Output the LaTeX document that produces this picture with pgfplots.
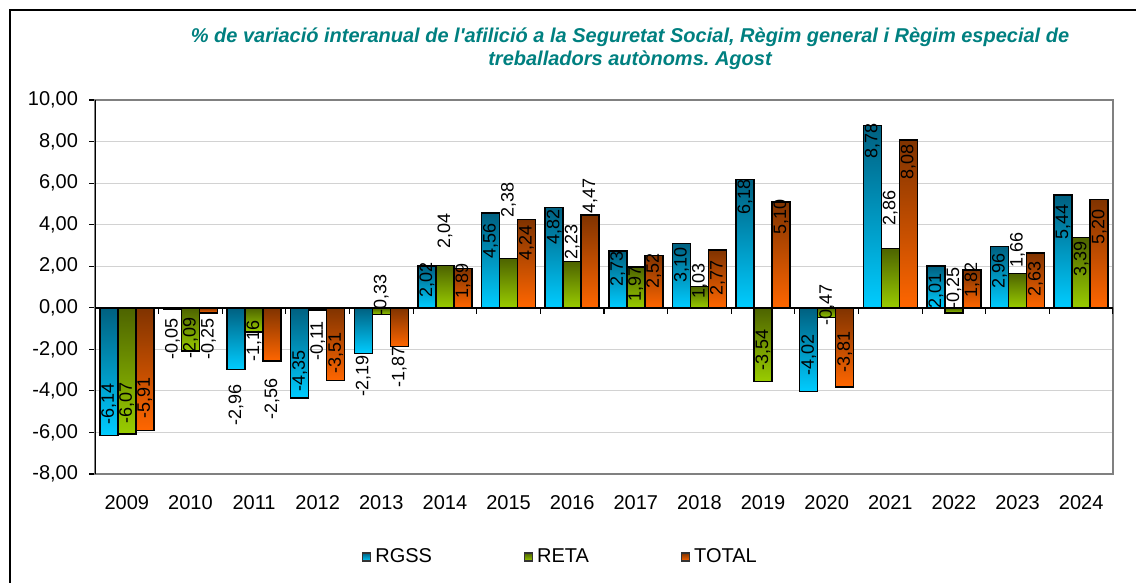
\documentclass[border=0pt]{standalone}
\usepackage{fontspec}
\setmainfont{Liberation Sans}
\usepackage{pgfplots}
\pgfplotsset{compat=1.18}
\usepackage{pgfplotstable}

\definecolor{rgssTop}{RGB}{0,96,128}
\definecolor{rgssBot}{RGB}{0,204,255}
\definecolor{retaTop}{RGB}{77,99,0}
\definecolor{retaBot}{RGB}{153,204,0}
\definecolor{totTop}{RGB}{128,51,0}
\definecolor{totBot}{RGB}{255,102,0}
\definecolor{titleteal}{RGB}{0,128,128}

% x = year index, val = value, ly = centre of the label
\pgfplotstableread{
x val ly
0 -6.14 -4.62
1 -0.05 -1.49
2 -2.96 -4.70
3 -4.35 -3.03
4 -2.19 -3.30
5 2.02 1.35
6 4.56 3.22
7 4.82 3.90
8 2.73 1.88
9 3.10 2.07
10 6.18 5.34
11 -4.02 -2.26
12 8.78 8.04
13 2.01 0.80
14 2.96 1.75
15 5.44 4.13
}\rgss
\pgfplotstableread{
x val ly
0 -6.07 -4.57
1 -2.09 -1.45
2 -1.16 -1.60
3 -0.11 -1.60
4 -0.33 0.60
5 2.04 3.70
6 2.38 5.20
7 2.23 3.16
8 1.97 1.15
9 1.03 1.30
10 -3.54 -2.02
11 -0.47 0.14
12 2.86 4.80
13 -0.25 0.97
14 1.66 2.80
15 3.39 2.36
}\reta
\pgfplotstableread{
x val ly
0 -5.91 -4.33
1 -0.25 -1.49
2 -2.56 -4.38
3 -3.51 -2.17
4 -1.87 -2.84
5 1.89 1.30
6 4.24 3.10
7 4.47 5.40
8 2.52 1.78
9 2.77 1.44
10 5.10 4.38
11 -3.81 -2.12
12 8.08 7.03
13 1.82 1.35
14 2.63 1.40
15 5.20 3.90
}\total

\pgfplotsset{
  barbase/.style={ybar, forget plot, bar width=0.283, draw=black, line width=0.75pt},
  vallabels/.style={forget plot, only marks, mark=none, point meta=explicit,
    nodes near coords={\pgfmathprintnumber[fixed, fixed zerofill, precision=2, use comma, assume math mode=true]{\pgfplotspointmeta}},
    every node near coord/.append style={rotate=90, anchor=center, inner sep=0pt,
        font=\fontsize{9}{11}\selectfont, text=black}},
}

\begin{document}
\frenchspacing
\begin{tikzpicture}
\path[use as bounding box] (0,0) rectangle (568pt,-291.5pt);
\draw[line width=1.2pt] (5pt,-291.5pt) -- (5pt,-5pt) -- (568pt,-5pt);
\node[align=center, text=titleteal, font=\bfseries\itshape\fontsize{10}{11.5}\selectfont]
  at (315pt,-24.5pt) {\% de variació interanual de l\textquotesingle afilició a la Seguretat Social, Règim general i Règim especial de\\ treballadors autònoms. Agost};

\begin{axis}[
    at={(47.5pt,-237pt)}, anchor=south west,
    scale only axis,
    width=509pt, height=187pt,
    xmin=-0.5, xmax=15.5,
    ymin=-8, ymax=10,
    ytick={-8,-6,...,10},
    xtick={0,...,15},
    xticklabels={2009,2010,2011,2012,2013,2014,2015,2016,2017,2018,2019,2020,2021,2022,2023,2024},
    x tick label style={font=\fontsize{10}{12}\selectfont, yshift=-4pt},
    y tick label style={font=\fontsize{10}{12}\selectfont, xshift=-2pt,
        /pgf/number format/.cd, fixed, fixed zerofill, precision=2, use comma, assume math mode=true},
    major x tick style={draw=none},
    major y tick style={black, line width=0.6pt},
    tick align=outside, major tick length=3pt,
    ytick pos=left, xtick pos=bottom,
    ymajorgrids,
    grid style={gray!35, line width=0.6pt},
    axis line style={draw=gray, line width=0.8pt},
    legend columns=3,
    legend style={at={(0.262,-0.222)}, anchor=west, draw=none, fill=none, inner sep=0pt,
        font=\fontsize{10}{12}\selectfont,
        /tikz/every even column/.append style={column sep=44pt}},
    legend image code/.code={\draw[#1, draw=black!80, line width=0.6pt] (0pt,-2pt) rectangle (4pt,2pt);},
]
\addlegendimage{top color=rgssTop, bottom color=rgssBot}
\addlegendentry{RGSS}
\addlegendimage{top color=retaTop, bottom color=retaBot}
\addlegendentry{RETA}
\addlegendimage{top color=totTop, bottom color=totBot}
\addlegendentry{TOTAL}

% one plot per bar, so that every bar gets its own gradient
\pgfplotsinvokeforeach{0,...,15}{
  \addplot[barbase, bar shift=-0.283, top color=rgssTop, bottom color=rgssBot,
    x filter/.expression={x==#1 ? x : nan}] table[x=x, y=val] {\rgss};
  \addplot[barbase, bar shift=0, top color=retaTop, bottom color=retaBot,
    x filter/.expression={x==#1 ? x : nan}] table[x=x, y=val] {\reta};
  \addplot[barbase, bar shift=0.283, top color=totTop, bottom color=totBot,
    x filter/.expression={x==#1 ? x : nan}] table[x=x, y=val] {\total};
}

% zero line and its tick marks between the groups
\draw[black, line width=0.75pt] (axis cs:-0.5,0) -- (axis cs:15.5,0);
\pgfplotsinvokeforeach{-0.5,0.5,...,15.5}{
  \draw[black, line width=0.6pt] (axis cs:#1,0) -- ([yshift=-3pt]axis cs:#1,0);
}
\draw[black, line width=0.8pt] (rel axis cs:0,0) -- (rel axis cs:0,1);

% value labels
\addplot[vallabels] table[x expr=\thisrow{x}-0.283, y=ly, meta=val] {\rgss};
\addplot[vallabels] table[x=x, y=ly, meta=val] {\reta};
\addplot[vallabels] table[x expr=\thisrow{x}+0.283, y=ly, meta=val] {\total};
\end{axis}
\end{tikzpicture}
\end{document}
